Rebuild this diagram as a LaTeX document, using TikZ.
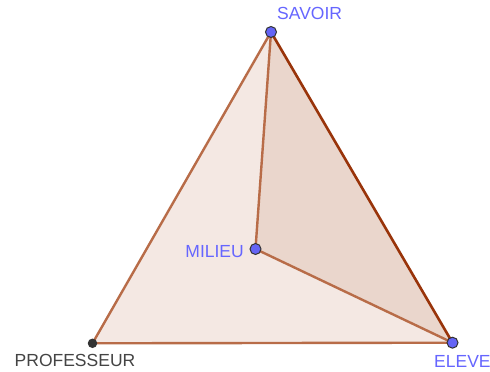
\documentclass[tikz,border=0pt]{standalone}
\usepackage{fontspec}
\setmainfont{Liberation Sans}
\definecolor{edgec}{HTML}{B86C48}
\definecolor{darkedge}{HTML}{99340A}
\definecolor{fillout}{HTML}{F4E8E3}
\definecolor{fillin}{HTML}{EAD6CC}
\definecolor{ptblue}{HTML}{6464F5}
\definecolor{lblblue}{HTML}{6666FF}
\definecolor{lblgray}{HTML}{444444}
\tikzset{
  pt/.style={circle, inner sep=0pt, minimum size=11pt, draw=black!80, line width=1pt, fill=ptblue},
  ptdark/.style={circle, inner sep=0pt, minimum size=9.5pt, fill=black!80},
  lbl/.style={font=\fontsize{17.5}{19}\selectfont, inner sep=0pt},
  edge/.style={draw=edgec, line width=2.4pt, line join=round},
}
\begin{document}
\begin{tikzpicture}[x=1pt,y=1pt]
\useasboundingbox (0,0) rectangle (490,372);
\fill[white] (0,0) rectangle (490,372);
\coordinate (S) at (271,340);
\coordinate (M) at (255.5,123);
\coordinate (P) at (92.5,28.7);
\coordinate (E) at (452.5,29.3);
\fill[fillout] (P) -- (S) -- (E) -- cycle;
\fill[fillin] (S) -- (M) -- (E) -- cycle;
\draw[edge] (P) -- (S);
\draw[edge] (P) -- (E);
\draw[edge] (S) -- (M) -- (E);
\draw[draw=darkedge, line width=2.6pt] (S) -- (E);
\node[pt] (nS) at (S) {};
\node[pt] (nM) at (M) {};
\node[ptdark] (nP) at (P) {};
\node[pt] (nE) at (E) {};
\node[lbl, text=lblblue, anchor=base west] (tS) at (277,352) {SAVOIR};
\node[lbl, text=lblblue, anchor=base east] (tM) at (244,114.5) {MILIEU};
\node[lbl, text=lblgray, anchor=base west] (tP) at (14.5,5.5) {PROFESSEUR};
\node[lbl, text=lblblue, anchor=base west] (tE) at (434,4.5) {ELEVE};
\end{tikzpicture}
\end{document}
